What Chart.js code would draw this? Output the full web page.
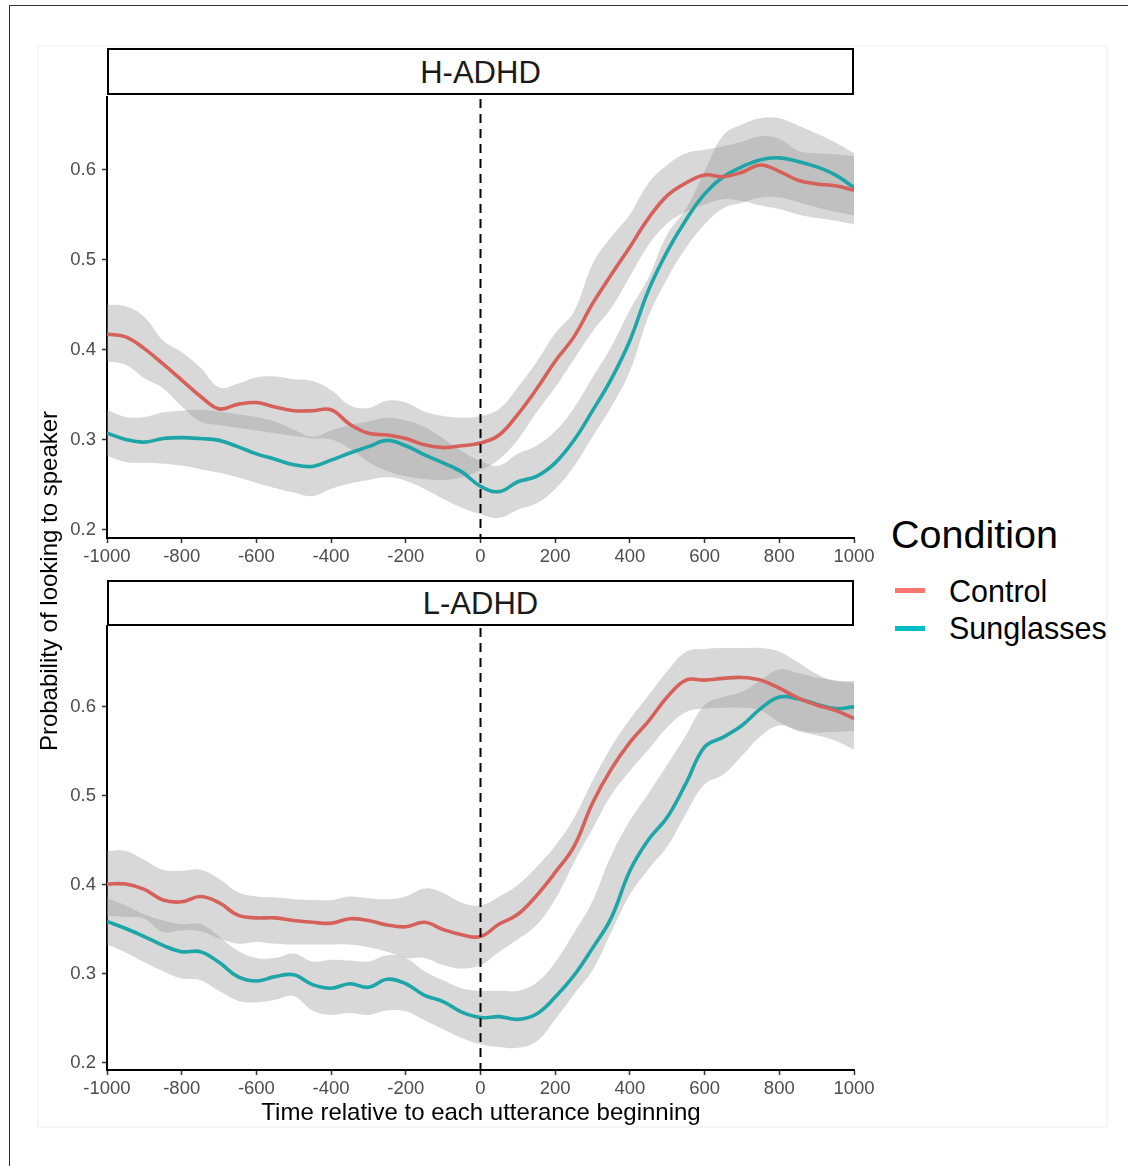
<!DOCTYPE html>
<html>
<head>
<meta charset="utf-8">
<title>Probability of looking to speaker</title>
<script src="https://cdn.jsdelivr.net/npm/chart.js@4.4.0/dist/chart.umd.min.js"></script>
<style>
    body {
        margin: 0;
        width: 1128px;
        height: 1166px;
        overflow: hidden;
        background: #ffffff;
        position: relative;
        font-family: "Liberation Sans", Arial, Helvetica, sans-serif;
    }
    .frame {
        position: absolute; left: 9px; top: 5px; width: 1200px; height: 1200px;
        border-top: 1.5px solid #333; border-left: 1.5px solid #333;
    }
    .inner {
        position: absolute; left: 37px; top: 45px; width: 1071px; height: 1083px;
        border: 2px solid #f6f6f6; box-sizing: border-box;
    }
    .panel { position: absolute; left: 0; width: 880px; }
    .strip {
        position: absolute; left: 107px; width: 747px;
        border: 2px solid #000; box-sizing: border-box; background: #fff;
    }
    .txt { position: absolute; white-space: nowrap; }
    .strip-label {
        left: 107px; width: 747px; text-align: center;
        font-size: 31px; line-height: 31px; color: #1a1a1a;
    }
    .key { position: absolute; left: 895px; width: 30px; height: 5px; }
</style>
</head>
<body>
<div class="frame"></div>
<div class="inner"></div>

<div class="panel" style="top:40px;height:540px;"><canvas id="hChart"></canvas></div>
<div class="panel" style="top:575px;height:530px;"><canvas id="lChart"></canvas></div>

<div class="strip" style="top:48px;height:47px;"></div>
<div class="txt strip-label" style="top:57px;">H-ADHD</div>
<div class="strip" style="top:580px;height:46px;"></div>
<div class="txt strip-label" style="top:587.5px;">L-ADHD</div>

<div class="txt" style="left:-151px;top:569px;width:400px;text-align:center;font-size:24px;line-height:24px;transform:rotate(-90deg);">Probability of looking to speaker</div>
<div class="txt" style="left:181px;top:1100px;width:600px;text-align:center;font-size:24px;line-height:24px;">Time relative to each utterance beginning</div>

<div class="txt" style="left:891px;top:514.5px;font-size:39.5px;line-height:39.5px;">Condition</div>
<div class="key" style="top:588px;background:#F8766D;"></div>
<div class="key" style="top:626px;background:#00BFC4;"></div>
<div class="txt" style="left:949px;top:576px;font-size:30.5px;line-height:30.5px;">Control</div>
<div class="txt" style="left:949px;top:612.5px;font-size:30.5px;line-height:30.5px;">Sunglasses</div>

<script>
'use strict';

// Time points (ms relative to utterance onset)
const times = [-1000, -950, -900, -850, -800, -750, -700, -650, -600, -550, -500,
    -450, -400, -350, -300, -250, -200, -150, -100, -50, 0,
    50, 100, 150, 200, 250, 300, 350, 400, 450, 500,
    550, 600, 650, 700, 750, 800, 850, 900, 950, 1000];

const xTicks = [-1000, -800, -600, -400, -200, 0, 200, 400, 600, 800, 1000];
const yTicks = [0.2, 0.3, 0.4, 0.5, 0.6];
const conditions = ['Control', 'Sunglasses'];

// H-ADHD panel
const hControl = [0.417, 0.414, 0.401, 0.384, 0.366, 0.348, 0.334, 0.339, 0.341, 0.336, 0.332,
    0.332, 0.333, 0.317, 0.307, 0.305, 0.301, 0.294, 0.291, 0.293, 0.296,
    0.305, 0.328, 0.356, 0.387, 0.414, 0.451, 0.483, 0.514, 0.546, 0.571,
    0.585, 0.594, 0.592, 0.597, 0.605, 0.598, 0.588, 0.584, 0.582, 0.577];
const hControlHi = [0.450, 0.448, 0.436, 0.410, 0.397, 0.380, 0.358, 0.362, 0.369, 0.370, 0.367,
    0.365, 0.355, 0.338, 0.335, 0.343, 0.341, 0.331, 0.326, 0.324, 0.326,
    0.334, 0.358, 0.386, 0.418, 0.442, 0.495, 0.525, 0.550, 0.585, 0.605,
    0.618, 0.622, 0.626, 0.631, 0.637, 0.634, 0.621, 0.618, 0.617, 0.615];
const hControlLo = [0.387, 0.383, 0.368, 0.357, 0.337, 0.320, 0.316, 0.313, 0.310, 0.307, 0.304,
    0.301, 0.300, 0.290, 0.275, 0.265, 0.259, 0.256, 0.255, 0.258, 0.266,
    0.278, 0.300, 0.330, 0.358, 0.389, 0.420, 0.446, 0.481, 0.516, 0.540,
    0.553, 0.561, 0.567, 0.565, 0.560, 0.556, 0.550, 0.546, 0.543, 0.539];
const hSun = [0.307, 0.300, 0.297, 0.301, 0.302, 0.301, 0.299, 0.292, 0.284, 0.278, 0.272,
    0.270, 0.277, 0.285, 0.292, 0.299, 0.293, 0.283, 0.274, 0.264, 0.248,
    0.242, 0.253, 0.259, 0.274, 0.299, 0.332, 0.367, 0.410, 0.466, 0.509,
    0.544, 0.573, 0.592, 0.603, 0.611, 0.613, 0.609, 0.603, 0.594, 0.580];
const hSunHi = [0.333, 0.325, 0.325, 0.330, 0.332, 0.333, 0.331, 0.328, 0.325, 0.320, 0.311,
    0.303, 0.310, 0.316, 0.320, 0.324, 0.321, 0.314, 0.301, 0.287, 0.276,
    0.271, 0.284, 0.293, 0.309, 0.335, 0.369, 0.403, 0.444, 0.480, 0.528,
    0.556, 0.598, 0.638, 0.650, 0.657, 0.657, 0.649, 0.640, 0.630, 0.618];
const hSunLo = [0.282, 0.275, 0.274, 0.273, 0.271, 0.267, 0.263, 0.258, 0.252, 0.246, 0.241,
    0.237, 0.245, 0.251, 0.255, 0.258, 0.254, 0.245, 0.234, 0.224, 0.217,
    0.213, 0.222, 0.229, 0.245, 0.270, 0.303, 0.336, 0.376, 0.437, 0.479,
    0.513, 0.539, 0.557, 0.563, 0.569, 0.569, 0.564, 0.558, 0.553, 0.549];

// L-ADHD panel
const lControl = [0.401, 0.401, 0.395, 0.383, 0.381, 0.387, 0.380, 0.366, 0.363, 0.363, 0.360,
    0.358, 0.357, 0.362, 0.360, 0.355, 0.353, 0.358, 0.350, 0.344, 0.342,
    0.356, 0.367, 0.388, 0.414, 0.443, 0.492, 0.530, 0.560, 0.584, 0.611,
    0.630, 0.630, 0.632, 0.633, 0.630, 0.621, 0.610, 0.602, 0.596, 0.587];
const lControlHi = [0.438, 0.438, 0.428, 0.417, 0.416, 0.417, 0.407, 0.392, 0.387, 0.386, 0.384,
    0.383, 0.383, 0.387, 0.385, 0.384, 0.387, 0.396, 0.391, 0.380, 0.377,
    0.387, 0.400, 0.420, 0.444, 0.475, 0.517, 0.555, 0.586, 0.613, 0.640,
    0.662, 0.665, 0.666, 0.666, 0.666, 0.662, 0.650, 0.637, 0.629, 0.629];
const lControlLo = [0.365, 0.364, 0.362, 0.347, 0.349, 0.348, 0.340, 0.334, 0.336, 0.334, 0.333,
    0.333, 0.333, 0.333, 0.330, 0.325, 0.318, 0.318, 0.310, 0.306, 0.310,
    0.325, 0.339, 0.355, 0.384, 0.425, 0.463, 0.501, 0.528, 0.552, 0.577,
    0.594, 0.598, 0.599, 0.599, 0.596, 0.583, 0.573, 0.568, 0.562, 0.552];
const lSun = [0.359, 0.351, 0.342, 0.332, 0.325, 0.325, 0.313, 0.297, 0.292, 0.297, 0.299,
    0.288, 0.284, 0.289, 0.285, 0.294, 0.289, 0.276, 0.269, 0.257, 0.251,
    0.252, 0.249, 0.255, 0.274, 0.298, 0.329, 0.363, 0.416, 0.451, 0.476,
    0.514, 0.555, 0.566, 0.579, 0.598, 0.611, 0.609, 0.603, 0.598, 0.600];
const lSunHi = [0.385, 0.377, 0.367, 0.360, 0.356, 0.356, 0.342, 0.326, 0.318, 0.318, 0.323,
    0.314, 0.316, 0.315, 0.314, 0.321, 0.318, 0.303, 0.293, 0.284, 0.281,
    0.281, 0.281, 0.290, 0.313, 0.346, 0.382, 0.433, 0.472, 0.503, 0.535,
    0.568, 0.602, 0.611, 0.617, 0.630, 0.642, 0.638, 0.633, 0.630, 0.627];
const lSunLo = [0.333, 0.324, 0.313, 0.303, 0.295, 0.293, 0.281, 0.270, 0.268, 0.271, 0.275,
    0.259, 0.254, 0.256, 0.254, 0.259, 0.258, 0.248, 0.238, 0.228, 0.221,
    0.218, 0.217, 0.224, 0.249, 0.277, 0.304, 0.347, 0.389, 0.418, 0.443,
    0.480, 0.513, 0.524, 0.545, 0.567, 0.579, 0.574, 0.571, 0.572, 0.573];

(function() {
    const FONT = '"Liberation Sans", Arial, Helvetica, sans-serif';
    const RIBBON = 'rgba(153, 153, 153, 0.38)';
    const LINE_COLORS = ['#d6605a', '#1ea5a8'];

    Chart.defaults.font.family = FONT;

    function points(values) {
        return times.map((t, i) => ({ x: t, y: values[i] }));
    }

    // Dashed vertical reference line at utterance onset
    const onsetLine = {
        id: 'onsetLine',
        afterDatasetsDraw(chart) {
            const { ctx, chartArea, scales } = chart;
            const x = scales.x.getPixelForValue(0);
            ctx.save();
            ctx.strokeStyle = '#000';
            ctx.lineWidth = 2;
            ctx.setLineDash([9, 6]);
            ctx.beginPath();
            ctx.moveTo(x, chartArea.top + 2);
            ctx.lineTo(x, chartArea.bottom);
            ctx.stroke();
            ctx.restore();
        }
    };

    function ribbon(hi, lo) {
        return [{
            data: points(hi),
            fill: '+1',
            backgroundColor: RIBBON,
            borderColor: 'rgba(0,0,0,0)',
            borderWidth: 0,
            pointRadius: 0,
            tension: 0.4,
            order: 2
        }, {
            data: points(lo),
            fill: false,
            borderColor: 'rgba(0,0,0,0)',
            borderWidth: 0,
            pointRadius: 0,
            tension: 0.4,
            order: 2
        }];
    }

    function meanLine(values, idx) {
        return {
            label: conditions[idx],
            data: points(values),
            fill: false,
            borderColor: LINE_COLORS[idx],
            borderWidth: 3.6,
            pointRadius: 0,
            tension: 0.4,
            order: 1
        };
    }

    function createPanel(id, series, yMin, yMax, padTop, xHeight) {
        const ctx = document.getElementById(id).getContext('2d');
        return new Chart(ctx, {
            type: 'line',
            data: {
                datasets: [
                    ...ribbon(series.ctrlHi, series.ctrlLo),
                    ...ribbon(series.sunHi, series.sunLo),
                    meanLine(series.ctrl, 0),
                    meanLine(series.sun, 1)
                ]
            },
            options: {
                responsive: true,
                maintainAspectRatio: false,
                animation: false,
                layout: { padding: { top: padTop, right: 26, left: 0, bottom: 0 } },
                plugins: {
                    legend: { display: false },
                    tooltip: { enabled: false }
                },
                scales: {
                    x: {
                        type: 'linear',
                        min: -1000,
                        max: 1000,
                        z: 1,
                        afterBuildTicks: s => { s.ticks = xTicks.map(v => ({ value: v })); },
                        afterFit: s => { s.height = xHeight; },
                        grid: { drawOnChartArea: false, tickLength: 5, tickWidth: 1.5, tickColor: '#333' },
                        border: { color: '#000', width: 2 },
                        ticks: {
                            color: '#4d4d4d',
                            font: { size: 18.5 },
                            padding: 3,
                            maxRotation: 0,
                            autoSkip: false,
                            callback: v => String(v)
                        }
                    },
                    y: {
                        min: yMin,
                        max: yMax,
                        z: 1,
                        afterBuildTicks: s => { s.ticks = yTicks.map(v => ({ value: v })); },
                        afterFit: s => { s.width = 107; },
                        grid: { drawOnChartArea: false, tickLength: 5, tickWidth: 1.5, tickColor: '#333' },
                        border: { color: '#000', width: 2 },
                        ticks: {
                            color: '#4d4d4d',
                            font: { size: 18.5 },
                            padding: 6,
                            callback: v => v.toFixed(1)
                        }
                    }
                }
            },
            plugins: [onsetLine]
        });
    }

    createPanel('hChart', {
        ctrl: hControl, ctrlHi: hControlHi, ctrlLo: hControlLo,
        sun: hSun, sunHi: hSunHi, sunLo: hSunLo
    }, 0.1905, 0.6806, 57, 42);

    createPanel('lChart', {
        ctrl: lControl, ctrlHi: lControlHi, ctrlLo: lControlLo,
        sun: lSun, sunHi: lSunHi, sunLo: lSunLo
    }, 0.1921, 0.6908, 51, 35);
})();
</script>
</body>
</html>
